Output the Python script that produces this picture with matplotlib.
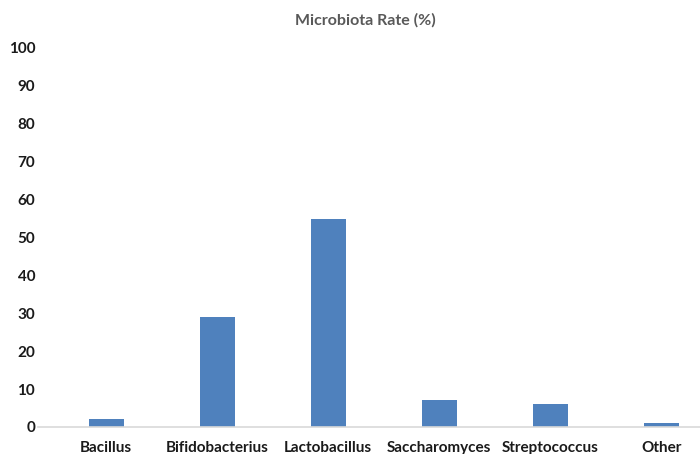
import numpy as np
import matplotlib.pyplot as plt

# Share of each genus in the sample
genera = ["Bacillus", "Bifidobacterius", "Lactobacillus", "Saccharomyces", "Streptococcus", "Other"]
rates = [2, 29, 55, 7, 6, 1]
y_ticks = [0, 10, 20, 30, 40, 50, 60, 70, 80, 90, 100]

plt.rcParams["font.family"] = ["Lato", "DejaVu Sans"]

fig = plt.figure(figsize=(7.0, 4.54), dpi=100)
ax = fig.add_axes([38 / 700, 27 / 454, 679 / 700, 379 / 454])

x = np.arange(len(genera))
ax.bar(x, rates, width=0.315, color="#4f81bd", zorder=2)

ax.set_xlim(-0.5 - 12.5 / 111, 5.5)
ax.set_ylim(0, 100)
ax.set_yticks(y_ticks)
ax.set_yticklabels([str(t) for t in y_ticks], fontsize=11, fontweight="bold", color="#1a1a1a")
ax.set_xticks(x)
ax.set_xticklabels(genera, fontsize=11, fontweight="bold", color="#1a1a1a")

ax.tick_params(axis="both", length=0)
ax.tick_params(axis="y", pad=2)
ax.tick_params(axis="x", pad=10)

for side in ["top", "right", "left"]:
    ax.spines[side].set_visible(False)
ax.spines["bottom"].set_color("#d9d9d9")
ax.spines["bottom"].set_linewidth(1.2)

fig.text(365 / 700, 1 - 20 / 454, "Microbiota Rate (%)", ha="center", va="center",
         fontsize=11.5, fontweight="bold", color="#595959")

fig.savefig("out.png", dpi=100)
